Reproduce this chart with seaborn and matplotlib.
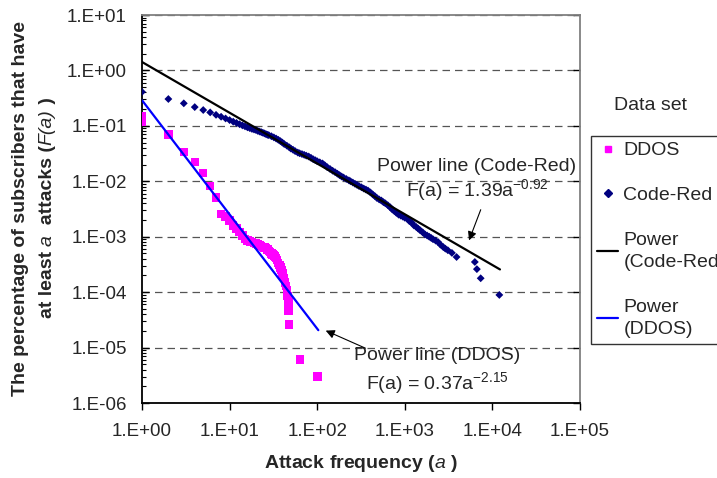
import numpy as np
import pandas as pd
import matplotlib
matplotlib.use("Agg")
import matplotlib.pyplot as plt
from matplotlib.ticker import LogLocator, FuncFormatter, NullFormatter, NullLocator
from matplotlib.lines import Line2D
import seaborn as sns

# ---------------- data ----------------
ddos_a = [1, 1, 2, 3, 4, 5, 6, 7, 8, 9, 10, 11, 12, 13, 14, 15, 16, 17, 18, 19, 20,
          21, 22, 23, 24, 25, 26, 27, 28, 29, 30, 31, 32, 33, 34, 35, 36, 37, 38, 39,
          40, 41, 42, 43, 44, 45, 46, 47, 47, 48, 64, 101]
ddos_f = [0.15, 0.12, 0.070, 0.034, 0.022, 0.0143, 0.0082, 0.0051, 0.0026, 0.0023,
          0.00195, 0.0016, 0.0014, 0.00123, 0.00105, 0.00092, 0.00085, 0.00082, 0.00080,
          0.00078, 0.00075, 0.00072, 0.00070, 0.00068, 0.00066, 0.00064, 0.00062,
          0.00059, 0.00056, 0.00053, 0.00050, 0.00048, 0.00046, 0.00044, 0.00041,
          0.00038, 0.00034, 0.00031, 0.00028, 0.00025, 0.00022, 0.00020, 0.00018,
          0.00015, 0.00013, 0.00011, 0.000085, 0.000065, 0.000046, 0.000026,
          6.1e-6, 3.0e-6]

cr_a = [1, 2, 3, 4, 5, 6, 7, 8, 9, 10, 11, 12, 13, 14, 15, 16, 17, 18, 19, 20, 21, 22,
        23, 24, 25, 26, 27, 28, 30, 32, 34, 36, 38, 40, 42, 45, 48, 50, 53, 56, 60, 63,
        67, 71, 75, 80, 85, 90, 95, 100, 107, 115, 122, 130, 140, 150, 160, 170, 180,
        190, 200, 215, 230, 240, 255, 270, 285, 300, 320, 340, 360, 380, 405, 430, 455,
        480, 510, 540, 570, 600, 640, 680, 720, 760, 800, 850, 900, 950, 1000, 1070,
        1130, 1200, 1270, 1350, 1420, 1500, 1600, 1700, 1800, 1900, 2000, 2100, 2250,
        2400, 2550, 2750, 2900, 3100, 3450, 3900, 6300, 6650, 7350, 12000]
cr_f = [0.41, 0.305, 0.255, 0.218, 0.193, 0.175, 0.158, 0.146, 0.136, 0.127, 0.119,
        0.113, 0.107, 0.102, 0.098, 0.094, 0.091, 0.088, 0.086, 0.084, 0.081, 0.079,
        0.077, 0.075, 0.073, 0.071, 0.069, 0.068, 0.065, 0.062, 0.059, 0.056, 0.053,
        0.050, 0.047, 0.044, 0.041, 0.039, 0.037, 0.035, 0.033, 0.032, 0.031, 0.030,
        0.029, 0.028, 0.0265, 0.025, 0.024, 0.023, 0.022, 0.021, 0.0195, 0.018, 0.0167,
        0.0155, 0.0146, 0.0137, 0.0129, 0.0122, 0.0117, 0.0110, 0.0104, 0.0100, 0.0095,
        0.0090, 0.0086, 0.0082, 0.0078, 0.0074, 0.0071, 0.0068, 0.0063, 0.0058, 0.0054,
        0.0050, 0.0047, 0.0045, 0.0042, 0.0040, 0.0037, 0.0034, 0.0031, 0.0029, 0.0027,
        0.0025, 0.0024, 0.0023, 0.0022, 0.0021, 0.0019, 0.0018, 0.0016, 0.0015, 0.0014,
        0.0013, 0.0012, 0.0011, 0.00105, 0.00100, 0.00095, 0.00090, 0.00085, 0.00080,
        0.00072, 0.00065, 0.00061, 0.00057, 0.00051, 0.00043, 0.00035, 0.00026,
        0.000178, 0.000089]

# power trend lines as drawn (end points)
cr_fit_a = [1, 12200]
cr_fit_f = [1.42, 2.57e-4]
ddos_fit_a = [1, 103]
ddos_fit_f = [0.29, 2.06e-5]

x_ticks = [1e0, 1e1, 1e2, 1e3, 1e4, 1e5]
y_ticks = [1e-6, 1e-5, 1e-4, 1e-3, 1e-2, 1e-1, 1e0, 1e1]

# ---------------- style ----------------
sns.set_style("white")
plt.rcParams["font.family"] = ["Liberation Sans", "DejaVu Sans"]
plt.rcParams["mathtext.fontset"] = "custom"
plt.rcParams["mathtext.rm"] = "Liberation Sans"
plt.rcParams["mathtext.it"] = "Liberation Sans:italic"
plt.rcParams["mathtext.bf"] = "Liberation Sans:bold"

FS = 14
TFS = 13.5
W, H = 717, 478
fig = plt.figure(figsize=(W / 100, H / 100), dpi=100)
ax = fig.add_axes([142 / W, 1 - 403 / H, 438 / W, 388 / H])

ddos_df = pd.DataFrame({"a": ddos_a, "F": ddos_f})
cr_df = pd.DataFrame({"a": cr_a, "F": cr_f})
cr_fit = pd.DataFrame({"a": cr_fit_a, "F": cr_fit_f})
ddos_fit = pd.DataFrame({"a": ddos_fit_a, "F": ddos_fit_f})

sns.scatterplot(data=ddos_df, x="a", y="F", marker="s", s=36, color="#FF00FF",
                edgecolor="none", linewidth=0, ax=ax, zorder=3, legend=False)
sns.scatterplot(data=cr_df, x="a", y="F", marker="D", s=16, color="#000080",
                edgecolor="none", linewidth=0, ax=ax, zorder=4, legend=False)
sns.lineplot(data=cr_fit, x="a", y="F", color="black", linewidth=1.6, ax=ax, zorder=5)
sns.lineplot(data=ddos_fit, x="a", y="F", color="#0000FF", linewidth=1.6, ax=ax, zorder=5)

ax.set_xscale("log")
ax.set_yscale("log")
ax.set_xlim(1, 1e5)
ax.set_ylim(1e-6, 1e1)

fmt = FuncFormatter(lambda v, p: "1.E{:+03d}".format(int(round(np.log10(v)))))
ax.set_xticks(x_ticks)
ax.xaxis.set_major_formatter(fmt)
ax.xaxis.set_minor_locator(NullLocator())
ax.set_yticks(y_ticks)
ax.yaxis.set_major_formatter(fmt)
ax.yaxis.set_minor_locator(LogLocator(base=10, subs=np.arange(2, 10), numticks=20))
ax.yaxis.set_minor_formatter(NullFormatter())

ax.tick_params(axis="x", which="major", direction="out", length=5, width=1,
               labelsize=TFS, pad=9.5, color="black", bottom=True, top=False)
ax.tick_params(axis="y", which="major", direction="in", length=5, width=1,
               labelsize=TFS, pad=11, left=True, right=True, color="black")
ax.tick_params(axis="y", which="minor", direction="in", length=3, width=0.8,
               left=True, right=False, color="black")

for s in ["left", "bottom"]:
    ax.spines[s].set_color("black")
    ax.spines[s].set_linewidth(1.3)
for s in ["top", "right"]:
    ax.spines[s].set_color("#808080")
    ax.spines[s].set_linewidth(1.3)

ax.yaxis.grid(True, which="major", linestyle=(0, (6, 4)), color="#555555", linewidth=0.9)
ax.xaxis.grid(False)
ax.set_axisbelow(True)

ax.set_xlabel("Attack frequency ($\\mathit{a}$ )", fontsize=FS, fontweight="bold")
ax.xaxis.set_label_coords(0.5, -0.13)

# y label: first line as the axis label, second line built from styled pieces
ax.set_ylabel("The percentage of subscribers that have", fontsize=FS, fontweight="bold")
ax.yaxis.label.set_verticalalignment("center")
ax.yaxis.set_label_coords((21 - 142) / 438, (403 - 208) / 388)

renderer = fig.canvas.get_renderer()
pieces = [("at least ", "bold", "normal"), ("a", "normal", "italic"),
          ("  attacks (", "bold", "normal"), ("F(a)", "normal", "italic"),
          (" )", "bold", "normal")]
x2 = 47 / W
objs = []
for txt, wgt, sty in pieces:
    t = fig.text(x2, 0.5, txt, rotation=90, fontsize=FS, fontweight=wgt, fontstyle=sty,
                 ha="center", va="bottom", rotation_mode="default")
    objs.append(t)
lengths = [t.get_window_extent(renderer).height for t in objs]
total = sum(lengths)
ypix = (H - 208) - total / 2.0
for t, L in zip(objs, lengths):
    t.set_position((x2, ypix / H))
    ypix += L

# annotations
ax.text(6670, 0.0188, "Power line (Code-Red)", fontsize=FS, ha="center", va="center")
ax.text(6670, 6.9e-3, "F(a) = 1.39a$^{\\mathrm{-0.92}}$", fontsize=FS, ha="center", va="center")
ax.annotate("", xy=(5270, 7.7e-4), xytext=(7550, 3.42e-3),
            arrowprops=dict(arrowstyle="-|>", color="black", lw=0.8, mutation_scale=13))
ax.text(2330, 7.3e-6, "Power line (DDOS)", fontsize=FS, ha="center", va="center")
ax.text(2330, 2.27e-6, "F(a) = 0.37a$^{\\mathrm{-2.15}}$", fontsize=FS, ha="center", va="center")
ax.annotate("", xy=(117, 2.12e-5), xytext=(380, 9.3e-6),
            arrowprops=dict(arrowstyle="-|>", color="black", lw=0.8, mutation_scale=13))

# legend (title drawn outside the box as in the reference)
fig.text(651 / W, 1 - 105 / H, "Data set", fontsize=FS, ha="center", va="center")
handles = [
    Line2D([], [], linestyle="none", marker="s", markersize=5, color="#FF00FF"),
    Line2D([], [], linestyle="none", marker="D", markersize=3.6, color="#000080"),
    Line2D([], [], color="black", linewidth=1.6),
    Line2D([], [], color="#0000FF", linewidth=1.6),
]
labels = ["DDOS", "Code-Red", "Power\n(Code-Red)", "Power\n(DDOS)"]
leg = fig.legend(handles, labels, loc="upper left",
                 bbox_to_anchor=(591 / W, 1 - 136 / H), bbox_transform=fig.transFigure,
                 borderaxespad=0, frameon=True, fancybox=False, fontsize=FS,
                 labelspacing=1.4, handlelength=1.1, handletextpad=0.26, borderpad=0.3)
for t in leg.get_texts():
    t.set_linespacing(1.45)
leg.get_frame().set_edgecolor("black")
leg.get_frame().set_linewidth(1.0)

fig.savefig("out.png", dpi=100)
